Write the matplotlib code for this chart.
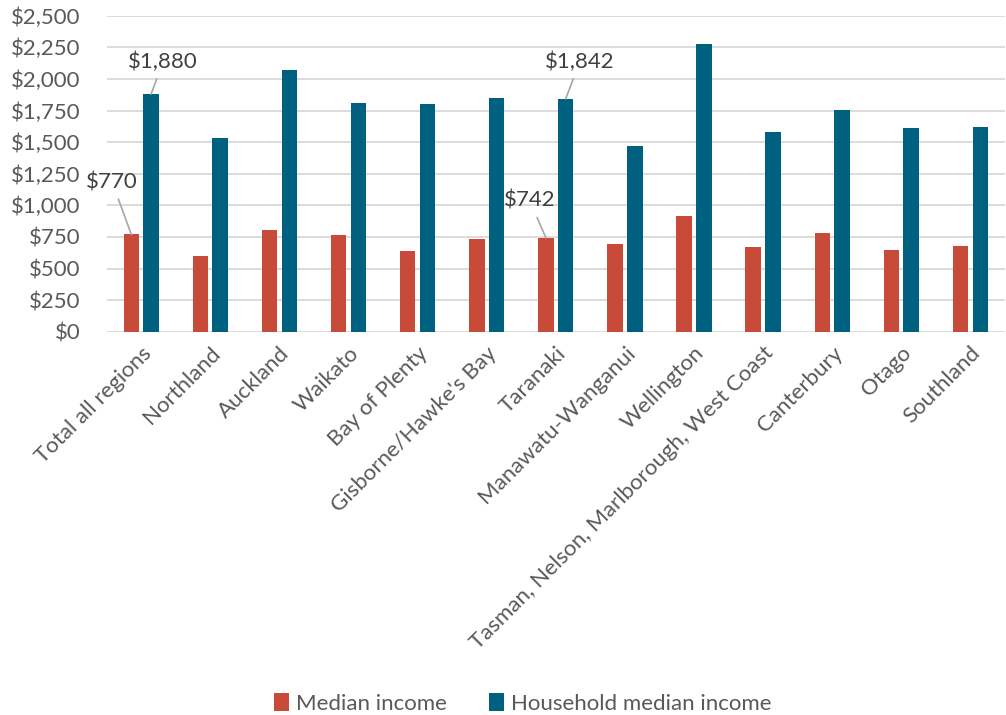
import numpy as np
import matplotlib.pyplot as plt
from matplotlib.ticker import FuncFormatter

regions = ['Total all regions', 'Northland', 'Auckland', 'Waikato', 'Bay of Plenty',
           "Gisborne/Hawke's Bay", 'Taranaki', 'Manawatu-Wanganui', 'Wellington',
           'Tasman, Nelson, Marlborough, West Coast', 'Canterbury', 'Otago', 'Southland']
median_income = [770, 597, 803, 763, 637, 732, 742, 695, 916, 668, 779, 645, 676]
household_income = [1880, 1532, 2067, 1809, 1801, 1848, 1842, 1468, 2276, 1584, 1753, 1613, 1619]
yticks = np.arange(0, 2501, 250)

red = '#C84B3A'
teal = '#00607F'
grey = '#595959'

plt.rcParams['font.family'] = ['Lato', 'DejaVu Sans']

fig, ax = plt.subplots(figsize=(10.06, 7.15), dpi=100)
fig.subplots_adjust(left=0.106, right=0.999, top=0.978, bottom=0.536)

x = np.arange(len(regions))
w = 0.225
ax.bar(x - 0.143, median_income, w, color=red, label='Median income', zorder=3)
ax.bar(x + 0.143, household_income, w, color=teal, label='Household median income', zorder=3)

ax.set_xlim(-0.5, len(regions) - 0.5)
ax.set_ylim(0, 2500)
ax.set_yticks(yticks)
ax.yaxis.set_major_formatter(FuncFormatter(lambda v, p: '${:,.0f}'.format(v)))
ax.grid(axis='y', color='#D9D9D9', linewidth=1.3, zorder=0)
for s in ax.spines.values():
    s.set_visible(False)
ax.tick_params(axis='both', length=0, labelsize=16, labelcolor=grey)
ax.tick_params(axis='y', pad=19)
ax.set_xticks(x)
ax.set_xticklabels(regions, rotation=45, ha='right', rotation_mode='anchor')
ax.tick_params(axis='x', pad=8)

# data labels on a few bars
notes = [(0, -0.143, median_income[0], (-19, 52)),
         (0, 0.143, household_income[0], (12, 32)),
         (6, -0.143, median_income[6], (-16, 37)),
         (6, 0.143, household_income[6], (14, 37))]
for i, off, val, dxy in notes:
    ax.annotate('${:,}'.format(val), xy=(i + off, val), xytext=dxy,
                textcoords='offset pixels', ha='center', va='center',
                fontsize=16, color='#404040',
                arrowprops=dict(arrowstyle='-', color='#A6A6A6', lw=1.2,
                                shrinkA=3, shrinkB=0))

ax.legend(loc='center', bbox_to_anchor=(0.463, -1.175), ncol=2, frameon=False,
          fontsize=16, labelcolor=grey, handlelength=0.7, handleheight=0.9,
          columnspacing=1.9, handletextpad=0.3)

fig.savefig('out.png')
